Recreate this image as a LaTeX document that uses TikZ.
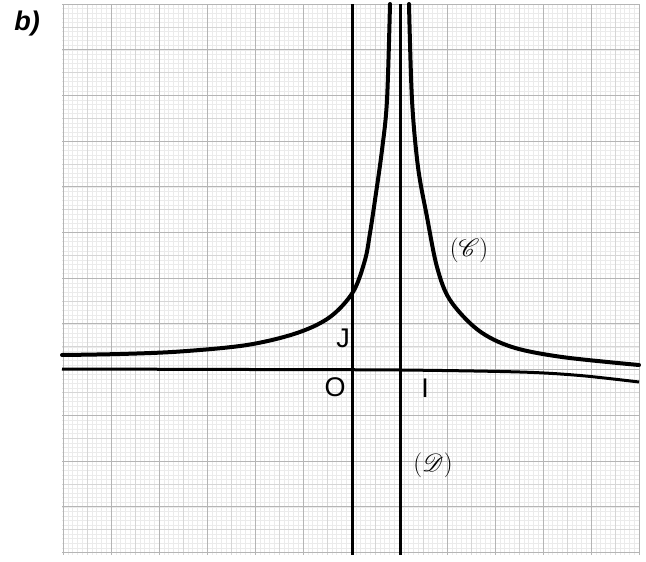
\documentclass[tikz,border=0pt]{standalone}
\usepackage{fontspec}
\usepackage{mathrsfs}
\newfontfamily\labfont{Liberation Sans}
\tikzset{
  minorline/.style={gray!16, line width=0.4pt},
  halfline/.style={gray!32, line width=0.55pt},
  majorline/.style={gray!58, line width=1pt},
  axisline/.style={black, line width=3pt},
  curveline/.style={black, line width=4pt, line cap=round},
  lab/.style={inner sep=0pt, font=\labfont\fontsize{27}{30}\selectfont},
  mlab/.style={inner sep=0pt, font=\fontsize{27}{30}\selectfont}
}
\begin{document}
\begin{tikzpicture}[x=1pt,y=-1pt]
\useasboundingbox (0,0) rectangle (646,562);
\fill[white] (0,0) rectangle (646,562);
% graph paper: minor lines
\foreach \i in {0,...,120}{
  \draw[minorline] ({63+\i*4.8},4) -- ({63+\i*4.8},555);
  \draw[minorline] (62,{4+\i*4.57}) -- (639,{4+\i*4.57});
}
% half-centimetre lines
\foreach \i in {0,...,11}{
  \draw[halfline] ({87+\i*48},4) -- ({87+\i*48},555);
  \draw[halfline] (62,{26.85+\i*45.7}) -- (639,{26.85+\i*45.7});
}
% centimetre lines
\foreach \i in {0,...,12}{
  \draw[majorline] ({63+\i*48},4) -- ({63+\i*48},555);
  \draw[majorline] (62,{4+\i*45.7}) -- (639,{4+\i*45.7});
}
% axes and asymptote
\coordinate (yt) at (352,4);
\coordinate (yb) at (352,555);
\coordinate (at) at (400.5,4);
\coordinate (ab) at (400.5,555);
\draw[axisline] (yt) -- (yb);
\draw[axisline] (at) -- (ab);
\draw[axisline] plot[smooth, tension=0.5] coordinates {(62,369) (250,369.5) (400,370) (520,372) (580,375.5) (639,382)};
% curve (C)
\draw[curveline] plot[smooth, tension=0.55] coordinates {
  (62,355) (120,354) (180,351.5) (247,345) (297,333) (330,317) (353,292)
  (365,260) (370,233) (375,200) (382,150) (387,100) (390,4)};
\draw[curveline] plot[smooth, tension=0.55] coordinates {
  (409,4) (412,100) (418,167) (427,217) (437,267) (450,300) (478,330)
  (512,347) (562,357) (639,365)};
% labels
\node[inner sep=0pt, font=\labfont\bfseries\itshape\fontsize{27}{30}\selectfont] (b) at (27,24) {b)};
\node[lab] (O) at (335,387) {O};
\node[lab] (I) at (425,388) {I};
\node[lab] (J) at (343,338) {J};
\node[mlab] (C) at (469,250) {$(\mathscr{C})$};
\node[mlab] (D) at (433,465) {$(\mathscr{D})$};
\end{tikzpicture}
\end{document}
